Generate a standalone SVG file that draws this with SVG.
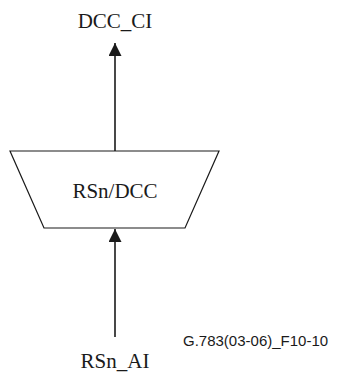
<svg xmlns="http://www.w3.org/2000/svg" width="337" height="376" viewBox="0 0 337 376">
<style>
.t{font-family:"Liberation Serif",serif;font-size:21px;fill:#1a1a1a;text-anchor:middle}
.c{stroke:#1a1a1a;stroke-width:1.6;fill:none}
.n{fill:#fff;stroke:#1a1a1a;stroke-width:1.2}
</style>
<defs>
<marker id="a" viewBox="0 0 10 10" refX="10" refY="5" markerWidth="13" markerHeight="13" markerUnits="userSpaceOnUse" orient="auto"><path d="M0,0L10,5L0,10z" fill="#1a1a1a"/></marker>
</defs>
<g id="connectors">
<line class="c" x1="115" y1="151" x2="115" y2="43" marker-end="url(#a)"/>
<line class="c" x1="115" y1="337" x2="115" y2="229" marker-end="url(#a)"/>
</g>
<g id="rsn_dcc">
<polygon class="n" points="10,151 219,151 185,228 44,228"/>
<text class="t" x="115" y="198">RSn/DCC</text>
</g>
<g id="dcc_ci"><text class="t" x="115" y="28">DCC_CI</text></g>
<g id="rsn_ai"><text class="t" x="115" y="368">RSn_AI</text></g>
<text x="183" y="346" font-family="Liberation Sans,Arial,sans-serif" font-size="15" fill="#1a1a1a">G.783(03-06)_F10-10</text>
</svg>
